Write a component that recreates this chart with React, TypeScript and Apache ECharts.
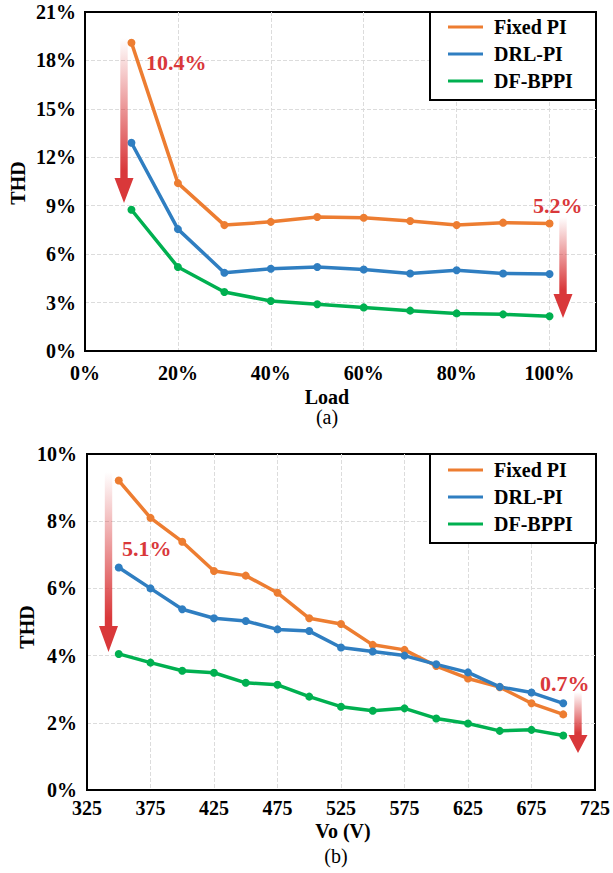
import React, { useEffect, useRef } from "react";
import * as echarts from "echarts";

const FONT = '"Liberation Serif", "Times New Roman", serif';
const RED = "#D9383A";
const COLORS = ["#ED7D31", "#2F7EC1", "#00B050"];
const NAMES = ["Fixed PI", "DRL-PI", "DF-BPPI"];

// (a) THD versus load
const loadX = [10, 20, 30, 40, 50, 60, 70, 80, 90, 100];
const fixedPI_a = [19.1, 10.4, 7.8, 8.0, 8.3, 8.25, 8.05, 7.8, 7.95, 7.9];
const drlPI_a = [12.9, 7.55, 4.85, 5.1, 5.2, 5.05, 4.8, 5.0, 4.8, 4.77];
const dfBPPI_a = [8.75, 5.2, 3.65, 3.1, 2.9, 2.7, 2.5, 2.33, 2.27, 2.15];

// (b) THD versus output voltage
const voX = [350, 375, 400, 425, 450, 475, 500, 525, 550, 575, 600, 625, 650, 675, 700];
const fixedPI_b = [9.21, 8.1, 7.39, 6.52, 6.38, 5.87, 5.11, 4.94, 4.32, 4.17, 3.69, 3.32, 3.06, 2.58, 2.25];
const drlPI_b = [6.62, 6.0, 5.38, 5.11, 5.03, 4.78, 4.73, 4.24, 4.12, 4.0, 3.74, 3.5, 3.07, 2.9, 2.58];
const dfBPPI_b = [4.05, 3.79, 3.55, 3.49, 3.19, 3.13, 2.78, 2.48, 2.36, 2.43, 2.13, 1.98, 1.76, 1.79, 1.62];

const pair = (xs: number[], ys: number[]) => xs.map((x, i) => [x, ys[i]]);

function arrow(cx: number, top: number, headStart: number, tip: number) {
  const sw = 3.7;
  const hw = 9.5;
  const frac = (headStart - top) / (tip - top);
  return {
    type: "polygon",
    z: 5,
    shape: {
      points: [
        [cx - sw, top],
        [cx + sw, top],
        [cx + sw, headStart],
        [cx + hw, headStart],
        [cx, tip],
        [cx - hw, headStart],
        [cx - sw, headStart],
      ],
    },
    style: {
      fill: new echarts.graphic.LinearGradient(0, 0, 0, 1, [
        { offset: 0, color: "rgba(217,56,58,0)" },
        { offset: frac * 0.95, color: RED },
        { offset: 1, color: RED },
      ]),
    },
  };
}

function redText(text: string, x: number, y: number) {
  return {
    type: "text",
    z: 6,
    x,
    y,
    style: {
      text,
      fill: RED,
      font: `bold 22px ${FONT}`,
      textAlign: "left",
      textVerticalAlign: "middle",
    },
  };
}

function plainText(text: string, x: number, y: number, bold: boolean, rotate = 0) {
  return {
    type: "text",
    z: 6,
    x,
    y,
    rotation: rotate,
    style: {
      text,
      fill: "#000",
      font: `${bold ? "bold " : ""}20px ${FONT}`,
      textAlign: "center",
      textVerticalAlign: "middle",
    },
  };
}

const axisCommon = (labelFmt: (v: number) => string, margin: number) => ({
  type: "value",
  axisLine: { show: true, onZero: false, lineStyle: { color: "#000", width: 2 } },
  axisTick: { show: false },
  axisLabel: {
    formatter: labelFmt,
    fontSize: 20,
    fontWeight: "bold",
    color: "#000",
    fontFamily: FONT,
    margin,
  },
  splitLine: {
    show: true,
    showMinLine: false,
    showMaxLine: false,
    lineStyle: { type: "dashed", color: "#dcdcdc", width: 1 },
  },
});

const legendCommon = (top: number) => ({
  left: 448,
  top,
  orient: "vertical",
  icon: "rect",
  itemWidth: 35,
  itemHeight: 3,
  itemGap: 7,
  padding: 0,
  z: 8,
  data: NAMES,
  textStyle: {
    fontSize: 20,
    fontWeight: "bold",
    color: "#000",
    fontFamily: FONT,
    padding: [0, 0, 0, 6],
  },
});

function makeSeries(name: string, data: number[][], color: string, idx: number) {
  return {
    name,
    type: "line",
    xAxisIndex: idx,
    yAxisIndex: idx,
    data,
    symbol: "circle",
    symbolSize: 8,
    lineStyle: { width: 3.5, color },
    itemStyle: { color },
    z: 3,
  };
}

export default function App() {
  const ref = useRef<HTMLDivElement>(null);
  useEffect(() => {
    if (!ref.current) return;
    const chart = echarts.init(ref.current, undefined, { renderer: "svg" });
    const option: any = {
      animation: false,
      textStyle: { fontFamily: FONT },
      grid: [
        { left: 85, top: 12, width: 511, height: 339, show: true, borderColor: "#000", borderWidth: 2, containLabel: false },
        { left: 87, top: 454, width: 509, height: 336, show: true, borderColor: "#000", borderWidth: 2, containLabel: false },
      ],
      xAxis: [
        { ...axisCommon((v: number) => (v > 100.01 ? "" : v + "%"), 12), gridIndex: 0, min: 0, max: 110, interval: 20 },
        { ...axisCommon((v: number) => String(v), 8), gridIndex: 1, min: 325, max: 725, interval: 50 },
      ],
      yAxis: [
        { ...axisCommon((v: number) => v + "%", 9), gridIndex: 0, min: 0, max: 21, interval: 3 },
        { ...axisCommon((v: number) => v + "%", 10), gridIndex: 1, min: 0, max: 10, interval: 2 },
      ],
      legend: [legendCommon(17), legendCommon(460)],
      series: [
        makeSeries(NAMES[0], pair(loadX, fixedPI_a), COLORS[0], 0),
        makeSeries(NAMES[1], pair(loadX, drlPI_a), COLORS[1], 0),
        makeSeries(NAMES[2], pair(loadX, dfBPPI_a), COLORS[2], 0),
        makeSeries(NAMES[0], pair(voX, fixedPI_b), COLORS[0], 1),
        makeSeries(NAMES[1], pair(voX, drlPI_b), COLORS[1], 1),
        makeSeries(NAMES[2], pair(voX, dfBPPI_b), COLORS[2], 1),
      ],
      graphic: [
        { type: "rect", z: 7, shape: { x: 430, y: 12, width: 166, height: 88 }, style: { fill: "#fff", stroke: "#000", lineWidth: 2 } },
        { type: "rect", z: 7, shape: { x: 430, y: 454, width: 166, height: 89 }, style: { fill: "#fff", stroke: "#000", lineWidth: 2 } },
        arrow(124, 38, 178, 203),
        arrow(563, 217, 294, 318),
        arrow(108.5, 472, 626, 652),
        arrow(578, 692, 735, 753),
        redText("10.4%", 146, 62),
        redText("5.2%", 533, 205),
        redText("5.1%", 122, 548),
        redText("0.7%", 540, 683),
        plainText("THD", 18, 183, true, Math.PI / 2),
        plainText("THD", 27, 627, true, Math.PI / 2),
        plainText("Load", 327, 397, true),
        plainText("(a)", 327, 417, false),
        plainText("Vo (V)", 343, 831, true),
        plainText("(b)", 336, 856, false),
      ],
    };
    chart.setOption(option);
    return () => chart.dispose();
  }, []);
  return (
    <div
      ref={ref}
      style={{ position: "absolute", left: 0, top: 0, width: 613, height: 873, background: "#fff" }}
    />
  );
}
